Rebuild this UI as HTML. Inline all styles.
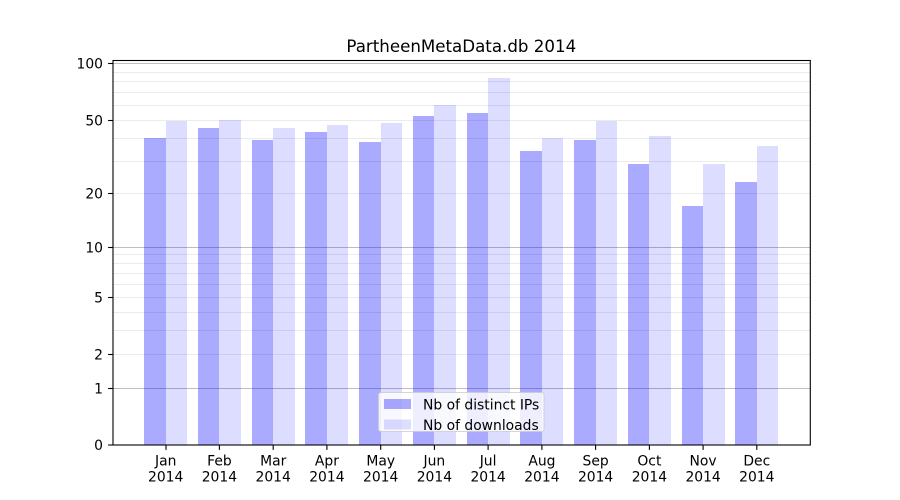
<!DOCTYPE html>
<html>
<head>
<meta charset="utf-8">
<style>
  html, body { margin: 0; padding: 0; background: #ffffff; }
  svg { display: block; }
  text { font-family: "DejaVu Sans", "Liberation Sans", sans-serif; fill: #000; }
</style>
</head>
<body>
<svg width="900" height="500" viewBox="0 0 900 500" xmlns="http://www.w3.org/2000/svg">
  <rect x="0" y="0" width="900" height="500" fill="#ffffff"/>

  <!-- minor grid -->
  <g stroke="#ebebeb" stroke-width="1" shape-rendering="crispEdges">
    <line x1="113" x2="810" y1="354.5" y2="354.5"/>
    <line x1="113" x2="810" y1="330.5" y2="330.5"/>
    <line x1="113" x2="810" y1="312.5" y2="312.5"/>
    <line x1="113" x2="810" y1="297.5" y2="297.5"/>
    <line x1="113" x2="810" y1="284.5" y2="284.5"/>
    <line x1="113" x2="810" y1="273.5" y2="273.5"/>
    <line x1="113" x2="810" y1="263.5" y2="263.5"/>
    <line x1="113" x2="810" y1="254.5" y2="254.5"/>
    <line x1="113" x2="810" y1="193.5" y2="193.5"/>
    <line x1="113" x2="810" y1="161.5" y2="161.5"/>
    <line x1="113" x2="810" y1="138.5" y2="138.5"/>
    <line x1="113" x2="810" y1="120.5" y2="120.5"/>
    <line x1="113" x2="810" y1="105.5" y2="105.5"/>
    <line x1="113" x2="810" y1="92.5" y2="92.5"/>
    <line x1="113" x2="810" y1="81.5" y2="81.5"/>
    <line x1="113" x2="810" y1="72.5" y2="72.5"/>
  </g>
  <!-- major grid -->
  <g stroke="#bdbdbd" stroke-width="1" shape-rendering="crispEdges">
    <line x1="113" x2="810" y1="388.5" y2="388.5"/>
    <line x1="113" x2="810" y1="247.5" y2="247.5"/>
    <line x1="113" x2="810" y1="63.5" y2="63.5"/>
  </g>

  <!-- bars -->
  <g shape-rendering="crispEdges">
    <g fill="#0000ff" fill-opacity="0.333">
      <rect x="144" y="138" width="22" height="307"/>
      <rect x="198" y="128" width="21" height="317"/>
      <rect x="252" y="140" width="21" height="305"/>
      <rect x="305" y="132" width="22" height="313"/>
      <rect x="359" y="142" width="22" height="303"/>
      <rect x="413" y="116" width="21" height="329"/>
      <rect x="467" y="113" width="21" height="332"/>
      <rect x="520" y="151" width="22" height="294"/>
      <rect x="574" y="140" width="22" height="305"/>
      <rect x="628" y="164" width="21" height="281"/>
      <rect x="682" y="206" width="21" height="239"/>
      <rect x="735" y="182" width="22" height="263"/>
    </g>
    <g fill="#0000ff" fill-opacity="0.133">
      <rect x="166" y="121" width="21" height="324"/>
      <rect x="219" y="120" width="22" height="325"/>
      <rect x="273" y="128" width="22" height="317"/>
      <rect x="327" y="125" width="21" height="320"/>
      <rect x="381" y="123" width="21" height="322"/>
      <rect x="434" y="105" width="22" height="340"/>
      <rect x="488" y="78" width="22" height="367"/>
      <rect x="542" y="138" width="21" height="307"/>
      <rect x="596" y="121" width="21" height="324"/>
      <rect x="649" y="136" width="22" height="309"/>
      <rect x="703" y="164" width="22" height="281"/>
      <rect x="757" y="146" width="21" height="299"/>
    </g>
  </g>

  <!-- axes spines -->
  <g stroke="#000" stroke-width="1.1" fill="none">
    <rect x="113" y="60.5" width="697.3" height="384.5"/>
  </g>

  <!-- y ticks -->
  <g stroke="#000" stroke-width="1.1">
    <line x1="108.1" x2="113" y1="445" y2="445"/>
    <line x1="108.1" x2="113" y1="388.5" y2="388.5"/>
    <line x1="108.1" x2="113" y1="354.5" y2="354.5"/>
    <line x1="108.1" x2="113" y1="297.5" y2="297.5"/>
    <line x1="108.1" x2="113" y1="247.5" y2="247.5"/>
    <line x1="108.1" x2="113" y1="193.5" y2="193.5"/>
    <line x1="108.1" x2="113" y1="120.5" y2="120.5"/>
    <line x1="108.1" x2="113" y1="63.5" y2="63.5"/>
  </g>
  <g font-size="13.89" text-anchor="end">
    <text x="103" y="450">0</text>
    <text x="103" y="393.5">1</text>
    <text x="103" y="359.5">2</text>
    <text x="103" y="302.5">5</text>
    <text x="103" y="252.5">10</text>
    <text x="103" y="198.5">20</text>
    <text x="103" y="125.5">50</text>
    <text x="103" y="68.5">100</text>
  </g>

  <!-- x ticks -->
  <g stroke="#000" stroke-width="1.1">
    <line x1="166" x2="166" y1="445" y2="449.9"/>
    <line x1="219.4" x2="219.4" y1="445" y2="449.9"/>
    <line x1="273.2" x2="273.2" y1="445" y2="449.9"/>
    <line x1="326.9" x2="326.9" y1="445" y2="449.9"/>
    <line x1="380.7" x2="380.7" y1="445" y2="449.9"/>
    <line x1="434.4" x2="434.4" y1="445" y2="449.9"/>
    <line x1="488.1" x2="488.1" y1="445" y2="449.9"/>
    <line x1="541.9" x2="541.9" y1="445" y2="449.9"/>
    <line x1="595.6" x2="595.6" y1="445" y2="449.9"/>
    <line x1="649.4" x2="649.4" y1="445" y2="449.9"/>
    <line x1="703.1" x2="703.1" y1="445" y2="449.9"/>
    <line x1="756.8" x2="756.8" y1="445" y2="449.9"/>
  </g>
  <g font-size="13.89" text-anchor="middle">
    <text x="165.7" y="465.3">Jan</text><text x="165.7" y="481.3">2014</text>
    <text x="219.4" y="465.3">Feb</text><text x="219.4" y="481.3">2014</text>
    <text x="273.2" y="465.3">Mar</text><text x="273.2" y="481.3">2014</text>
    <text x="326.9" y="465.3">Apr</text><text x="326.9" y="481.3">2014</text>
    <text x="380.7" y="465.3">May</text><text x="380.7" y="481.3">2014</text>
    <text x="434.4" y="465.3">Jun</text><text x="434.4" y="481.3">2014</text>
    <text x="488.1" y="465.3">Jul</text><text x="488.1" y="481.3">2014</text>
    <text x="541.9" y="465.3">Aug</text><text x="541.9" y="481.3">2014</text>
    <text x="595.6" y="465.3">Sep</text><text x="595.6" y="481.3">2014</text>
    <text x="649.4" y="465.3">Oct</text><text x="649.4" y="481.3">2014</text>
    <text x="703.1" y="465.3">Nov</text><text x="703.1" y="481.3">2014</text>
    <text x="756.8" y="465.3">Dec</text><text x="756.8" y="481.3">2014</text>
  </g>

  <!-- title -->
  <text x="461.3" y="52" font-size="16.67" text-anchor="middle">PartheenMetaData.db 2014</text>

  <!-- legend -->
  <rect x="378.5" y="392.5" width="165.5" height="39" rx="2.5" ry="2.5" fill="#ffffff" fill-opacity="0.8" stroke="#cccccc" stroke-opacity="0.8" stroke-width="1"/>
  <rect x="384" y="399" width="27" height="10" fill="#0000ff" fill-opacity="0.333"/>
  <rect x="384" y="419.5" width="27" height="10" fill="#0000ff" fill-opacity="0.133"/>
  <text x="423" y="409.4" font-size="13.89">Nb of distinct IPs</text>
  <text x="423" y="429.8" font-size="13.89">Nb of downloads</text>
</svg>
</body>
</html>
